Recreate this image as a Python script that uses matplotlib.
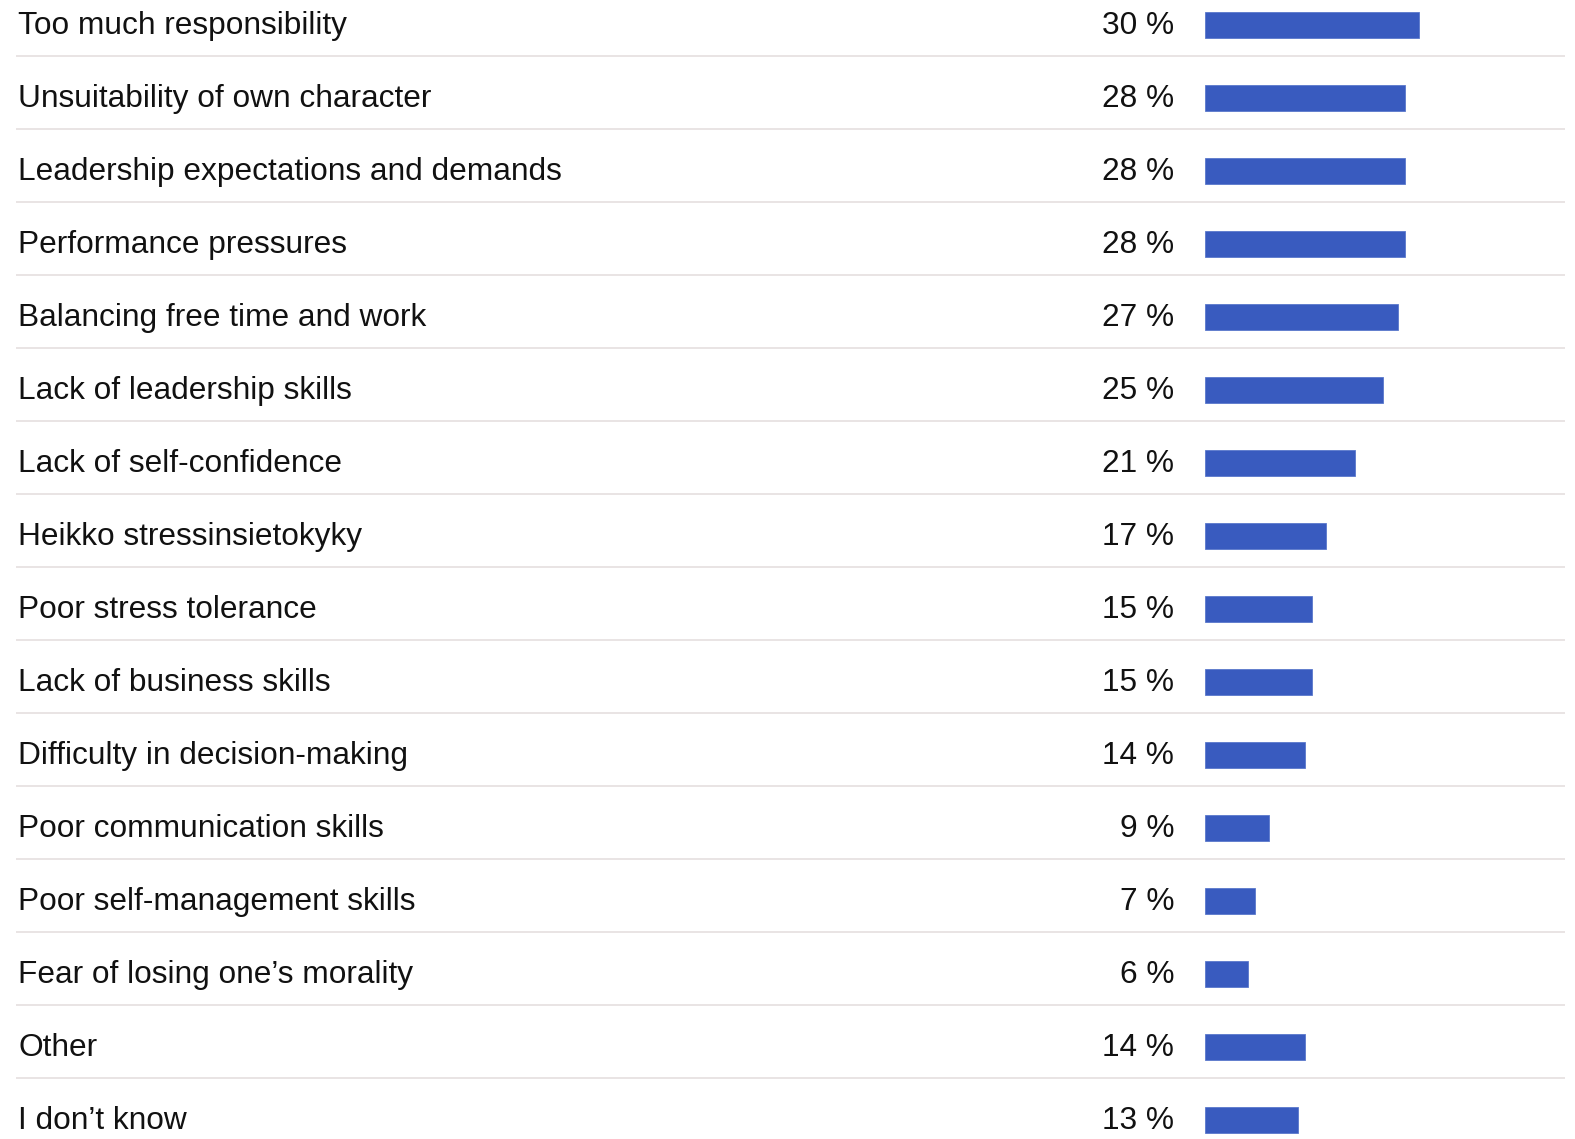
import matplotlib
matplotlib.use("Agg")
import matplotlib.pyplot as plt
from matplotlib.transforms import offset_copy

plt.rcParams['font.family'] = ['Liberation Sans', 'DejaVu Sans']

categories = [
    "Too much responsibility",
    "Unsuitability of own character",
    "Leadership expectations and demands",
    "Performance pressures",
    "Balancing free time and work",
    "Lack of leadership skills",
    "Lack of self-confidence",
    "Heikko stressinsietokyky",
    "Poor stress tolerance",
    "Lack of business skills",
    "Difficulty in decision-making",
    "Poor communication skills",
    "Poor self-management skills",
    "Fear of losing one\u2019s morality",
    "Other",
    "I don\u2019t know",
]
values = [30, 28, 28, 28, 27, 25, 21, 17, 15, 15, 14, 9, 7, 6, 14, 13]
value_labels = [f"{v} %" for v in values]

W, H = 1575, 1139
fig = plt.figure(figsize=(W / 100, H / 100), dpi=100)
ax = fig.add_axes([0, 0, 1, 1])

# Pixel layout of the plot area
bar_x0 = 1205.0          # where bars start
px_per_unit = 7.13       # horizontal pixels per percentage point
row0 = 25.0              # centre of first row
pitch = 73.0             # row spacing

ax.set_xlim(-bar_x0 / px_per_unit, (W - bar_x0) / px_per_unit)
ax.set_ylim((H - row0) / pitch, -row0 / pitch)
ax.axis('off')

ypos = list(range(len(categories)))
ax.barh(ypos, values, height=0.356, left=0, color='#395bbf',
        edgecolor='#5a78cc', linewidth=0.6)

ytrans = ax.get_yaxis_transform()
lab_trans = offset_copy(ytrans, fig=fig, x=0, y=-1.0, units='points')
for y, cat, lab in zip(ypos, categories, value_labels):
    ax.text(18 / W, y, cat, transform=lab_trans, ha='left', va='center',
            fontsize=22.8, color='#111111')
    ax.text(1174 / W, y, lab, transform=lab_trans, ha='right', va='center',
            fontsize=22.8, color='#111111')

# Row separators
for y in ypos[:-1]:
    ax.plot([16 / W, 1565 / W], [y + 0.43, y + 0.43], transform=ytrans,
            color='#e3dcdc', linewidth=1.1, solid_capstyle='butt')

fig.savefig('out.png', dpi=100, facecolor='white')
